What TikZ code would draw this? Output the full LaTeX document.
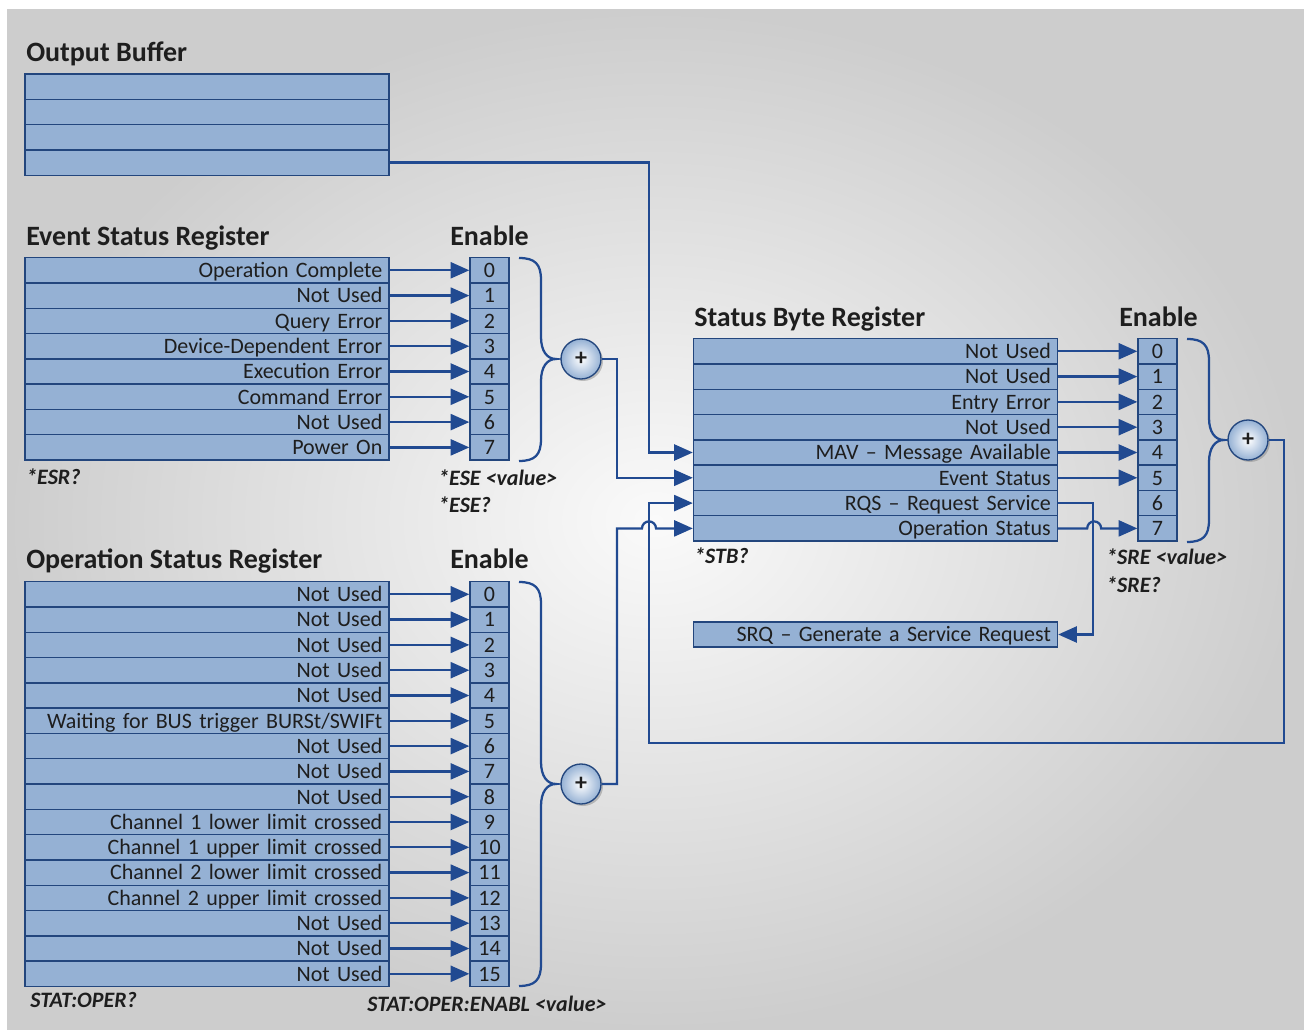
\documentclass[tikz,border=0pt]{standalone}
\usepackage{fontspec}
\setmainfont{Carlito}
\usetikzlibrary{arrows.meta,shadows}

\definecolor{regfill}{RGB}{149,177,212}
\definecolor{regline}{RGB}{35,70,125}
\definecolor{wirecol}{RGB}{33,74,145}
\definecolor{txt}{RGB}{30,30,30}
\definecolor{bgout}{RGB}{205,205,205}
\definecolor{bgin}{RGB}{250,250,250}

\tikzset{
  regrow/.style={draw=regline, fill=regfill, line width=1pt, inner xsep=5pt, inner ysep=0pt,
    text width=263pt, align=right, minimum height=18.98pt, text height=13pt, text depth=2pt,
    font=\fontsize{16.5}{18}\selectfont, text=txt},
  bitbox/.style={draw=regline, fill=regfill, line width=1pt, inner sep=0pt, minimum width=29.25pt,
    minimum height=18.98pt, text height=13pt, text depth=2pt,
    font=\fontsize{16.5}{18}\selectfont, text=txt},
  sig/.style={draw=wirecol, line width=1.7pt, -{Triangle[length=14pt,width=12pt]}},
  brace/.style={draw=wirecol, line width=1.7pt},
  sumnode/.style={circle, draw=regline, line width=1pt, inner color=white, outer color=regfill,
    minimum size=30pt, inner sep=0pt, font=\bfseries\fontsize{18}{18}\selectfont, text=txt,
    drop shadow={shadow xshift=1.5pt, shadow yshift=-1.5pt, opacity=0.45}},
  title/.style={anchor=base west, inner sep=0pt, font=\bfseries\fontsize{21}{24}\selectfont, text=txt},
  cmd/.style={anchor=base west, inner sep=0pt, font=\bfseries\itshape\fontsize{16.5}{18}\selectfont, text=txt},
}

\begin{document}
\begin{tikzpicture}[x=0.75pt,y=0.75pt,yscale=-1,xscale=1]
\useasboundingbox (0,0) rectangle (1304,1030);

%Shape: Background
\fill[white] (0,0) rectangle (1304,1030);
\shade[inner color=bgin, outer color=bgout] (7,10) rectangle (1304,1030);

% Output Buffer
\node[title] (obt) at (26,62) {Output Buffer};
\foreach \i in {0,...,3} {
  \node[regrow] (ob\i) at (207,{86.7+25.3*\i}) {};
}

% Event Status Register
\node[title] (esrt) at (26,246) {Event Status Register};
\node[title] (esret) at (450,246) {Enable};
\foreach \lbl [count=\i from 0] in {Operation Complete, Not Used, Query Error, Device-Dependent Error, Execution Error, Command Error, Not Used, Power On} {
  \node[regrow] (esr\i) at (207,{270.3+25.3*\i}) {\lbl};
  \node[bitbox] (esre\i) at (489.5,{270.3+25.3*\i}) {\i};
  \draw[sig] (esr\i) -- (esre\i);
}
%Shape: Brace
\draw[brace] (519,258) .. controls (535,258) and (541,264) .. (541,280) -- (541,337) .. controls (541,351) and (547,359) .. (556,359) .. controls (547,359) and (541,367) .. (541,381) -- (541,439) .. controls (541,455) and (535,461) .. (519,461);
\node[sumnode] (esum) at (581,359) {+};

% Operation Status Register
\node[title] (osrt) at (26,569) {Operation Status Register};
\node[title] (osret) at (450,569) {Enable};
\foreach \lbl [count=\i from 0] in {Not Used, Not Used, Not Used, Not Used, Not Used, Waiting for BUS trigger BURSt/SWIFt, Not Used, Not Used, Not Used, Channel 1 lower limit crossed, Channel 1 upper limit crossed, Channel 2 lower limit crossed, Channel 2 upper limit crossed, Not Used, Not Used, Not Used} {
  \node[regrow] (osr\i) at (207,{594.3+25.3*\i}) {\lbl};
  \node[bitbox] (osre\i) at (489.5,{594.3+25.3*\i}) {\i};
  \draw[sig] (osr\i) -- (osre\i);
}
%Shape: Brace
\draw[brace] (519,582) .. controls (535,582) and (541,588) .. (541,604) -- (541,762) .. controls (541,776) and (547,784) .. (556,784) .. controls (547,784) and (541,792) .. (541,806) -- (541,964) .. controls (541,980) and (535,986) .. (519,986);
\node[sumnode] (osum) at (581,784) {+};

% Status Byte Register
\node[title] (sbt) at (694,327) {Status Byte Register};
\node[title] (sbet) at (1119,327) {Enable};
\foreach \lbl [count=\i from 0] in {Not Used, Not Used, Entry Error, Not Used, MAV -- Message Available, Event Status, RQS -- Request Service, Operation Status} {
  \node[regrow] (sb\i) at (875.5,{351.3+25.3*\i}) {\lbl};
  \node[bitbox] (sbe\i) at (1157.5,{351.3+25.3*\i}) {\i};
}
\foreach \i in {0,...,5} {
  \draw[sig] (sb\i) -- (sbe\i);
}
%Shape: Brace
\draw[brace] (1187,339) .. controls (1203,339) and (1209,345) .. (1209,361) -- (1209,418) .. controls (1209,432) and (1215,440) .. (1224,440) .. controls (1215,440) and (1209,448) .. (1209,462) -- (1209,520) .. controls (1209,536) and (1203,542) .. (1187,542);
\node[sumnode] (ssum) at (1248,440) {+};

\node[regrow] (srq) at (875.5,634.5) {SRQ -- Generate a Service Request};

% Wiring
\coordinate (busA) at (649,0);
\coordinate (busB) at (617,0);
\coordinate (rqsbus) at (1093,634.5);
\coordinate (loopR) at (1284,743);
\coordinate (loopL) at (649,743);

\draw[sig] (ob3.east) -| (busA |- sb4.west) -- (sb4.west);
\draw[sig] (esum.east) -| (busB |- sb5.west) -- (sb5.west);
\draw[sig] (ssum.east) -| (loopR) -- (loopL) |- (sb6.west);
\draw[sig] (osum.east) -| (busB |- sb7.west) -- ++(25,0) arc (180:360:7) -- (sb7.west);
\draw[sig] (sb6.east) -| (rqsbus) -- (srq.east);
\draw[sig] (sb7.east) -- ++(29,0) arc (180:360:7) -- (sbe7.west);

% Text Node
\node[cmd] (esrq) at (26,485) {*ESR?};
\node[cmd] (esev) at (438,486) {*ESE <value>};
\node[cmd] (eseq) at (438,513) {*ESE?};
\node[cmd] (stbq) at (694,564) {*STB?};
\node[cmd] (srev) at (1106,565) {*SRE <value>};
\node[cmd] (sreq) at (1106,592) {*SRE?};
\node[cmd] (operq) at (30,1007) {STAT:OPER?};
\node[cmd] (enablv) at (367,1011) {STAT:OPER:ENABL <value>};

\end{tikzpicture}
\end{document}
